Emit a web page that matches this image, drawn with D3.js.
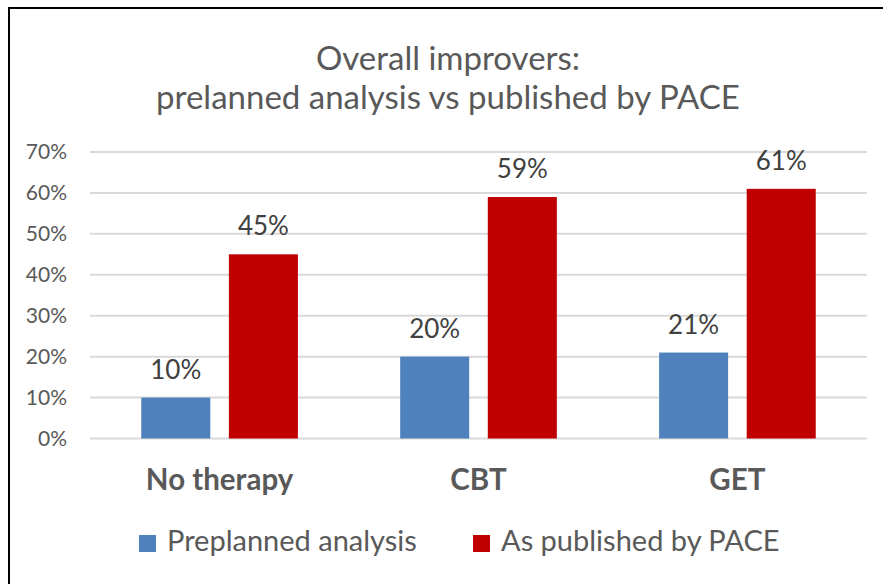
<!DOCTYPE html>
<html>
<head>
<meta charset="utf-8">
<script src="https://cdn.jsdelivr.net/npm/d3@7"></script>
<style>
  body { margin: 0; background: #fff; }
  svg { display: block; font-family: Lato, "Open Sans", sans-serif; }
</style>
</head>
<body>
<svg id="chart" width="883" height="584"></svg>
<script>
const categories = ['No therapy', 'CBT', 'GET'];
const seriesNames = ['Preplanned analysis', 'As published by PACE'];
const preplanned = [0.10, 0.20, 0.21];
const published = [0.45, 0.59, 0.61];
const yTicks = [0, 0.1, 0.2, 0.3, 0.4, 0.5, 0.6, 0.7];
const colors = ['#4F81BD', '#C00000'];

const svg = d3.select('#chart');

// frame (only top and left edges show in the picture)
svg.append('path')
  .attr('d', 'M9,584 V8 H883')
  .style('fill', 'none')
  .style('stroke', '#000')
  .style('stroke-width', 2);

// title
const title = svg.append('text')
  .attr('text-anchor', 'middle')
  .style('fill', '#595959')
  .style('font-size', '33px');
title.append('tspan').attr('x', 448).attr('y', 70).text('Overall improvers:');
title.append('tspan').attr('x', 448).attr('y', 109).text('prelanned analysis vs published by PACE');

const plotLeft = 90, plotRight = 867, plotTop = 152, plotBottom = 438.5;

const y = d3.scaleLinear().domain([0, 0.7]).range([plotBottom, plotTop]);
const x0 = d3.scaleBand().domain(categories).range([plotLeft, plotRight]).paddingInner(0.395).paddingOuter(0.198);
const x1 = d3.scaleBand().domain(seriesNames).range([0, x0.bandwidth()]).paddingInner(0.212);

// gridlines
svg.append('g')
  .selectAll('line')
  .data(yTicks)
  .enter()
  .append('line')
  .attr('x1', plotLeft)
  .attr('x2', plotRight)
  .attr('y1', d => y(d))
  .attr('y2', d => y(d))
  .style('stroke', '#D9D9D9')
  .style('stroke-width', 2);

// y axis labels
const yAxis = svg.append('g')
  .attr('transform', `translate(${plotLeft},0)`)
  .call(d3.axisLeft(y).tickValues(yTicks).tickFormat(d3.format('.0%')).tickSize(0).tickPadding(23));
yAxis.select('.domain').remove();
yAxis.selectAll('text')
  .style('font-family', 'Lato, sans-serif')
  .style('font-size', '21px')
  .style('fill', '#595959');

// bars
const rows = categories.map((c, i) => ({ cat: c, vals: [preplanned[i], published[i]] }));
const groups = svg.append('g')
  .selectAll('g')
  .data(rows)
  .enter()
  .append('g')
  .attr('transform', d => `translate(${x0(d.cat)},0)`);

groups.selectAll('rect')
  .data(d => d.vals.map((v, j) => ({ name: seriesNames[j], v: v, j: j })))
  .enter()
  .append('rect')
  .attr('x', d => x1(d.name))
  .attr('width', x1.bandwidth())
  .attr('y', d => y(d.v))
  .attr('height', d => y(0) - y(d.v))
  .style('fill', d => colors[d.j]);

groups.selectAll('text')
  .data(d => d.vals.map((v, j) => ({ name: seriesNames[j], v: v })))
  .enter()
  .append('text')
  .attr('x', d => x1(d.name) + x1.bandwidth() / 2)
  .attr('y', d => y(d.v) - 19)
  .attr('text-anchor', 'middle')
  .style('font-size', '26px')
  .style('fill', '#404040')
  .text(d => d3.format('.0%')(d.v));

// category labels
svg.append('g')
  .selectAll('text')
  .data(categories)
  .enter()
  .append('text')
  .attr('x', d => x0(d) + x0.bandwidth() / 2)
  .attr('y', 490)
  .attr('text-anchor', 'middle')
  .style('font-size', '29.5px')
  .style('font-weight', 'bold')
  .style('fill', '#595959')
  .text(d => d);

// legend
const legendX = [139, 473];
const legend = svg.append('g')
  .selectAll('g')
  .data(seriesNames)
  .enter()
  .append('g')
  .attr('transform', (d, i) => `translate(${legendX[i]},535)`);
legend.append('rect')
  .attr('width', 17)
  .attr('height', 17)
  .style('fill', (d, i) => colors[i]);
legend.append('text')
  .attr('x', 28)
  .attr('y', 16)
  .style('font-size', '29px')
  .style('fill', '#595959')
  .text(d => d);
</script>
</body>
</html>
